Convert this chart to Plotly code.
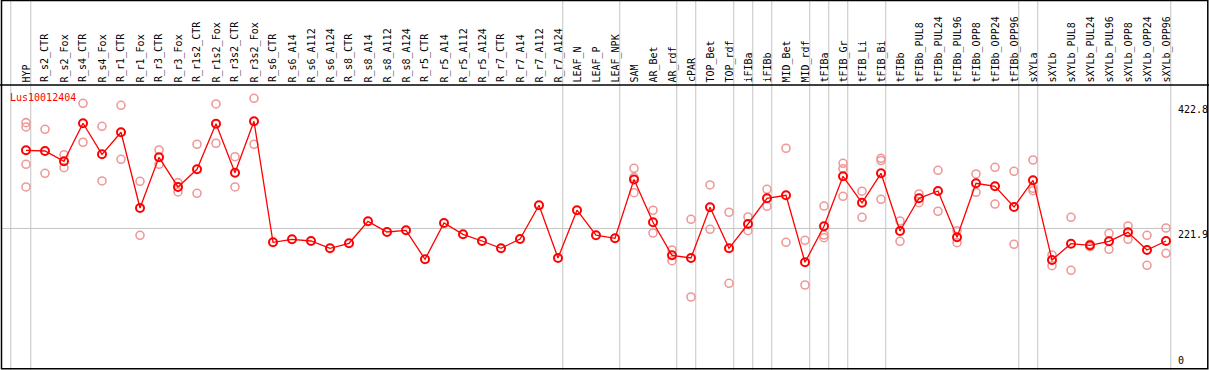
import plotly.graph_objects as go

W, H = 1209, 370

categories = ["HYP", "R_s2_CTR", "R_s2_Fox", "R_s4_CTR", "R_s4_Fox", "R_r1_CTR", "R_r1_Fox",
              "R_r3_CTR", "R_r3_Fox", "R_r1s2_CTR", "R_r1s2_Fox", "R_r3s2_CTR", "R_r3s2_Fox",
              "R_s6_CTR", "R_s6_A14", "R_s6_A112", "R_s6_A124", "R_s8_CTR", "R_s8_A14",
              "R_s8_A112", "R_s8_A124", "R_r5_CTR", "R_r5_A14", "R_r5_A112", "R_r5_A124",
              "R_r7_CTR", "R_r7_A14", "R_r7_A112", "R_r7_A124", "LEAF_N", "LEAF_P", "LEAF_NPK",
              "SAM", "AR_Bet", "AR_rdf", "cPAR", "TOP_Bet", "TOP_rdf", "iFIBa", "iFIBb",
              "MID_Bet", "MID_rdf", "tFIBa", "tFIB_Gr", "tFIB_Li", "tFIB_Bi", "tFIBb",
              "tFIBb_PUL8", "tFIBb_PUL24", "tFIBb_PUL96", "tFIBb_OPP8", "tFIBb_OPP24",
              "tFIBb_OPP96", "sXYLa", "sXYLb", "sXYLb_PUL8", "sXYLb_PUL24", "sXYLb_PUL96",
              "sXYLb_OPP8", "sXYLb_OPP24", "sXYLb_OPP96"]

means = [347.0, 345.9, 329.4, 390.3, 340.6, 375.9, 254.6, 335.8, 288.3, 316.6, 389.6, 311.2, 393.5,
         199.7, 204.5, 201.8, 190.1, 198.1, 233.3, 216.2, 218.9, 172.5, 230.6, 212.5, 201.8,
         190.1, 205.0, 259.0, 174.6, 251.1, 211.1, 206.1,
         300.4, 231.7, 178.9, 174.6, 255.8, 190.1, 229.0, 270.2,
         275.0, 167.7, 225.3, 305.4, 263.0, 310.2, 217.8,
         270.2, 281.9, 207.7, 294.2, 289.4, 256.2,
         299.0, 171.4, 197.5, 194.9, 201.3, 215.7, 187.4, 201.8]

replicates = [
    [391.3, 384.4, 324.6, 288.3], [380.7, 310.2], [340.0, 319.2], [422.3, 359.9], [385.5, 297.9],
    [419.1, 332.6], [297.4, 210.9], [347.5, 324.6], [295.2, 280.3], [356.7, 278.2],
    [421.2, 358.3], [336.8, 288.3], [430.3, 356.7],
    [], [], [], [], [], [], [], [], [], [], [], [], [], [], [], [], [], [], [],
    [318.2, 303.8, 279.1], [251.0, 214.6], [187.4, 170.2], [236.5, 112.1], [291.5, 220.5],
    [247.8, 134.0], [240.2, 218.3], [284.6, 257.4], [350.3, 199.7], [202.9, 131.3],
    [257.8, 211.4, 207.1], [326.2, 317.6, 273.4], [281.5, 239.7], [334.2, 330.7, 268.6],
    [233.8, 201.3], [277.1, 263.1], [315.0, 249.4], [218.3, 199.1], [309.1, 279.8],
    [319.8, 261.0], [313.4, 196.5], [331.5, 286.2, 282.3], [179.4, 162.2], [239.7, 154.9],
    [196.5, 192.7], [214.1, 188.5], [225.8, 204.5], [210.9, 162.9], [222.6, 182.1],
]

y_ticks = [422.8, 221.9, 0]
gene = "Lus10012404"
group_bounds = [-0.8, 0.25, 28.25, 31.25, 34.25, 35.25, 37.25, 38.25, 39.25, 41.25, 42.25,
                43.25, 45.25, 52.25, 53.25, 60.25]

FONT = "DejaVu Sans Mono"

rep_x, rep_y = [], []
for c, vals in zip(categories, replicates):
    for v in vals:
        rep_x.append(c)
        rep_y.append(v)

fig = go.Figure()
fig.add_trace(go.Scatter(
    x=rep_x, y=rep_y, mode="markers",
    marker=dict(symbol="circle-open", size=8, color="#f09898", line=dict(width=1.6)),
    showlegend=False, hoverinfo="skip"))
fig.add_trace(go.Scatter(
    x=categories, y=means, mode="lines+markers",
    line=dict(color="#ff0000", width=1.3),
    marker=dict(symbol="circle-open", size=8, color="#ff0000", line=dict(width=2)),
    showlegend=False))

# pixel helpers for frame layout
def px(x):
    return x / W

def py(y):
    return 1 - y / H

# x axis: category i at 26 + 19 i px ; y axis: 0 at 367 px, 450 at 86 px
step = 19.0
x0 = -26 / step
x1 = x0 + W / step
scale = (367 - 86) / 450.0
y_lo = -(H - 367) / scale
y_hi = 367 / scale

shapes = []
for b in group_bounds:
    shapes.append(dict(type="line", xref="x", yref="paper", x0=b, x1=b, y0=0, y1=1,
                       line=dict(color="#c4c4c4", width=1), layer="below"))
shapes.append(dict(type="line", xref="paper", yref="y", x0=px(2), x1=px(1170),
                   y0=y_ticks[1], y1=y_ticks[1], line=dict(color="#c4c4c4", width=1), layer="below"))
shapes.append(dict(type="line", xref="paper", yref="paper", x0=0, x1=1, y0=py(85), y1=py(85),
                   line=dict(color="black", width=1.5)))
shapes.append(dict(type="rect", xref="paper", yref="paper", x0=px(1.5), x1=px(1207.8),
                   y0=py(368.8), y1=py(0.5), line=dict(color="black", width=1.5)))

annotations = []
for c in categories:
    annotations.append(dict(x=c, xref="x", y=py(83.5), yref="paper", text=c, textangle=-90,
                            showarrow=False, xanchor="center", yanchor="bottom",
                            font=dict(family=FONT, size=10, color="black"), borderpad=0))
for t in y_ticks:
    annotations.append(dict(x=px(1177), xref="paper", y=t, yref="y",
                            text=("%g" % t) if t != 0 else "0", showarrow=False,
                            xanchor="left", yanchor="top" if t != 0 else "bottom",
                            font=dict(family=FONT, size=10, color="black"), borderpad=0))
annotations.append(dict(x=px(8.5), xref="paper", y=py(97), yref="paper", text=gene,
                        showarrow=False, xanchor="left", yanchor="middle",
                        font=dict(family=FONT, size=10, color="#ff0000"), borderpad=0))

fig.update_layout(
    width=W, height=H, margin=dict(l=0, r=0, t=0, b=0),
    paper_bgcolor="white", plot_bgcolor="white",
    xaxis=dict(type="category", categoryorder="array", categoryarray=categories,
               range=[x0, x1], visible=False, fixedrange=True),
    yaxis=dict(range=[y_lo, y_hi], visible=False, fixedrange=True),
    shapes=shapes, annotations=annotations, showlegend=False,
)

fig.write_html("out.html", config={"displayModeBar": False},
               post_script="document.body.style.margin='0';")
